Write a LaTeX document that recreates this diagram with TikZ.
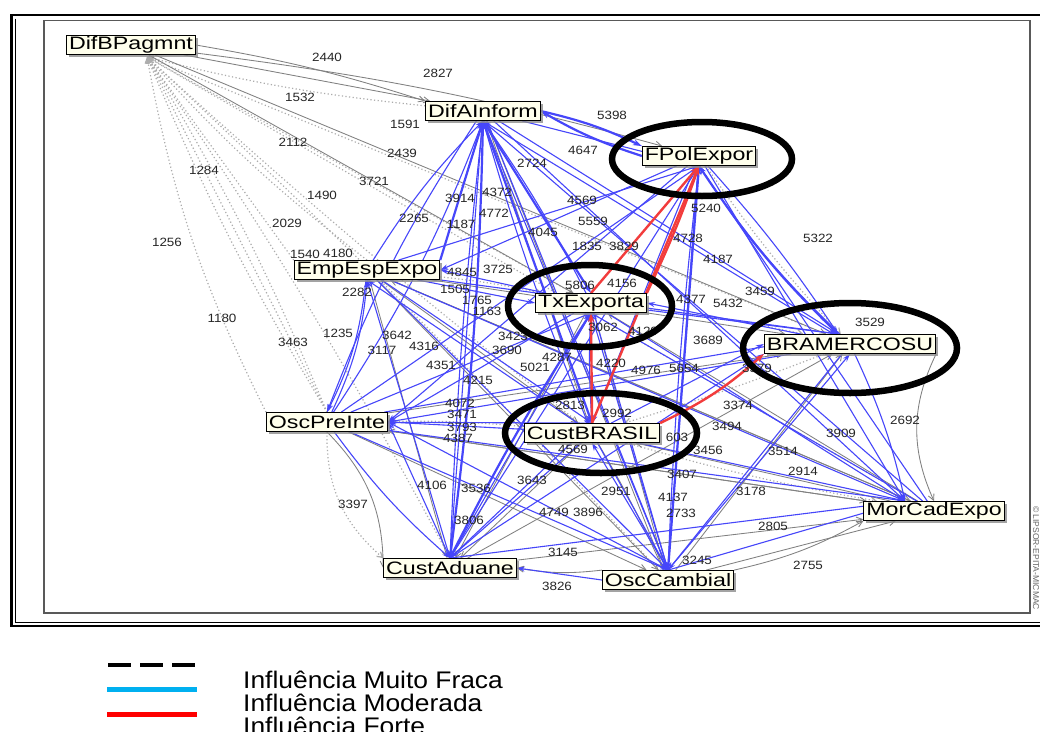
\documentclass[tikz,border=0pt]{standalone}
\usepackage{fontspec}
\setmainfont{Liberation Sans}
\usepackage{graphicx}
\usetikzlibrary{arrows.meta,shadows}
\definecolor{eblue}{RGB}{70,70,250}
\definecolor{egray}{RGB}{128,128,128}
\definecolor{ered}{RGB}{242,60,60}
\definecolor{nodefill}{RGB}{255,255,236}
\definecolor{lcyan}{RGB}{0,176,240}
\newcommand\hs[1]{\scalebox{1.29}[1]{#1}}
\newcommand\ns[1]{\scalebox{1.12}[1]{#1}}
\newcommand\lgs[1]{\scalebox{1.1}[1]{#1}}
\pgfdeclarelayer{bgzero}
\pgfdeclarelayer{edges}
\pgfsetlayers{bgzero,edges,main}
\begin{document}
\begin{tikzpicture}[x=1pt,y=-1pt,
 lab/.style={draw=black, line width=0.8pt, fill=nodefill, inner xsep=2.5pt, inner ysep=0pt,
   minimum height=19pt, font=\fontsize{18}{18}\selectfont,
   drop shadow={shadow xshift=2.5pt, shadow yshift=-2.5pt, fill=black!45, opacity=0.8}},
 num/.style={font=\fontsize{12}{12}\selectfont, text=black!85, inner sep=0pt},
 vw/.style={draw=gray!65, line width=1.2pt, dash pattern=on 1.2pt off 2.4pt, -{Straight Barb[length=5pt,width=6pt]}},
 wk/.style={draw=egray, line width=0.85pt, -{Straight Barb[length=6pt,width=6pt]}},
 md/.style={draw=eblue, line width=1.1pt, -{Stealth[length=8pt,width=5pt]}},
 mdt/.style={draw=eblue, line width=2.2pt, -{Stealth[length=9pt,width=6pt]}},
 st/.style={draw=ered, line width=2.4pt, -{Stealth[length=9pt,width=6pt]}},
 ring/.style={draw=black, line width=6.5pt},
 legtext/.style={font=\fontsize{24}{24}\selectfont, inner sep=0pt, anchor=base west}]
\useasboundingbox (0,0) rectangle (1040,731);
\begin{pgfonlayer}{bgzero}
\fill[white] (0,0) rectangle (1040,731);
\draw[line width=2.6pt] (11.5,15) rectangle (1050,626);
\draw[line width=0.8pt] (15,18.5) -- (15,622.5) -- (1050,622.5);
\draw[line width=1.2pt, black!65] (44,20.5) rectangle (1030,613);
\end{pgfonlayer}

% nodes
\node[lab] (dbp) at (131,45) {\hs{DifBPagmnt}};
\node[lab] (dai) at (483,111) {\hs{DifAInform}};
\node[lab] (fpe) at (699,156) {\hs{FPolExpor}};
\node[lab] (eee) at (367,270) {\hs{EmpEspExpo}};
\node[lab] (tx) at (591,303) {\hs{TxExporta}};
\node[lab] (bra) at (850,344) {\hs{BRAMERCOSU}};
\node[lab] (opi) at (327,422) {\hs{OscPreInte}};
\node[lab] (cb) at (592,433) {\hs{CustBRASIL}};
\node[lab] (mce) at (934,511) {\hs{MorCadExpo}};
\node[lab] (ca) at (450,568) {\hs{CustAduane}};
\node[lab] (oc) at (668,580) {\hs{OscCambial}};
\coordinate (dbpin) at (147,57);
\coordinate (brain) at (838,334);
\coordinate (mcein) at (905,501);

\begin{pgfonlayer}{edges}
\foreach \a/\b/\n in {opi.north/dbpin/0, opi.north/dbpin/4, opi.north/dbpin/-4, opi.north west/dbpin/8,
  eee.north west/dbpin/0, eee.north/dbpin/5, ca.north/dbpin/-3, tx/dbpin/0, cb/dbpin/2, bra/dbpin/0,
  oc/dbpin/-2, mce/dbpin/0, dai/dbpin/4, opi.south/ca.north west/-25, tx/bra/3, cb/mce/-3,
  eee/tx/3, fpe/bra/-4, opi/cb/3, bra/cb/2}
  \draw[vw] (\a) to[bend left=\n] (\b);
\foreach \a/\b/\n in {dbp.east/dai.north west/4, dbp/fpe/4, dbp/tx/0, dbp/bra/0, dbp/dai/0,
  eee/ca/0, eee/oc/0, eee/mce/0, eee/cb/0, eee/bra/0,
  opi.south/ca.west/22, opi/mce/0, opi/oc/0, opi/bra/0,
  oc.north west/ca.east/8, oc/mce/0, oc.north east/mce.south west/-8, ca/mce/0,
  bra.south east/mce.north/-25, mce/cb/0, mce/opi/0, mce/tx/0, mce/eee/0,
  oc/bra/0, ca/bra/0, tx/ca/0, dai/cb/0, dai/oc/0, cb/ca/0, tx/oc/0, cb/oc/3}
  \draw[wk] (\a) to[bend left=\n] (\b);
\foreach \a/\b/\n in {eee/dai.south/6, opi/dai.south/-6, ca.north/dai.south/2, oc.north/dai.south/0,
  cb/dai.south/3, bra/dai.south/0, mce/dai.south/0, tx/dai.south/-4,
  eee/fpe.south/0, opi/fpe.south/0, ca.north/fpe.south/0, oc.north/fpe.south/2, bra/fpe.south/6,
  mce/fpe.south/0, dai/fpe.south/0,
  opi/tx.south/0, ca.north/tx.south/0, oc.north/tx.south/0, eee/tx.west/0, bra/tx.east/0, mce/tx.south/0,
  opi/cb.north/0, ca.north/cb.north/0, oc.north/cb.south/0, eee/cb.north/0, fpe/cb.north/0, tx/cb.north/-3,
  tx/brain/0, eee/brain/0, opi/brain/0, dai/brain/0, ca.north/bra.south west/0, oc.north/bra.south/0,
  cb/bra.west/0, fpe/brain/4,
  eee/opi.north/10, ca.north/opi.east/0, tx/opi.east/0, cb/opi.east/0, bra/opi.east/0, oc.north/opi.east/0,
  dai/opi.north/-6, fpe/opi.east/0,
  fpe/mcein/0, bra/mcein/6, tx/mcein/0, cb/mcein/0, dai/mcein/0, eee/mcein/0, ca.north/mcein/0,
  opi/mcein/0, oc.north/mcein/0,
  ca.north/eee.south/0, opi/eee.south/-10, tx/eee.east/0, fpe/eee.east/0, cb/eee.south/0,
  oc.west/ca.east/0, cb/ca.north/0, opi/ca.north/-6,
  cb/oc.north/0, tx/oc.north/0, fpe/oc.north/0, bra/oc.north/0, opi/oc.north/0, eee/oc.north/0,
  dai/oc.north/0, dai/ca.north/0}
  \draw[md] (\a) to[bend left=\n] (\b);
\foreach \a/\b/\n in {fpe.west/dai.east/6, dai.east/fpe.north west/6, dai.south/tx.north/0,
  dai.south/cb.north/0, fpe.south/brain/-6, ca.north/dai.south/-3, oc.north/fpe.south/0,
  eee.north east/dai.south/0, ca.north/tx.south/3}
  \draw[mdt] (\a) to[bend left=\n] (\b);
\foreach \a/\b/\n in {tx.north/fpe.south/0, tx.north east/fpe.south/-3, cb.north/fpe.south/0,
  cb.north/tx.south/0, cb.north east/bra.south west/-8}
  \draw[st] (\a) to[bend left=\n] (\b);
\end{pgfonlayer}

% edge numbers
\foreach \t/\x/\y [count=\i] in {2440/327/57, 2827/438/73, 1532/300/97, 1591/405/124, 5398/612/115,
  2112/293/142, 2439/402/153, 4647/583/150, 1284/204/170, 2724/532/163, 3721/374/181, 1490/322/195,
  3914/460/198, 4372/497/192, 4569/582/200, 5240/706/208, 1187/461/224, 4772/494/213, 2265/414/218,
  5559/593/221, 2029/287/223, 4045/543/232, 5322/818/238, 4728/688/238, 1256/167/242, 1835/587/246,
  3829/624/246, 1540/305/254, 4180/338/253, 4187/718/259, 4845/462/272, 3725/498/269, 5806/580/285,
  4156/622/283, 4377/691/299, 5432/728/303, 3459/760/291, 2282/357/292, 1505/455/289, 1765/477/300,
  1163/487/311, 3529/870/322, 1180/222/318, 1235/338/333, 3463/293/342, 3642/397/335, 3117/382/350,
  4316/424/346, 3689/708/340, 3062/603/327, 4129/643/331, 3423/513/336, 3690/507/350, 4351/441/365,
  4215/478/380, 4287/557/357, 5021/535/367, 4220/611/363, 4976/646/370, 5654/684/368, 3579/757/368,
  2692/905/420, 4072/460/403, 3471/462/414, 3793/462/427, 4387/458/438, 2813/570/405, 2992/617/413,
  3374/738/405, 3494/727/426, 3909/841/433, 603/677/437, 4569/573/449, 3456/708/450, 3514/783/451,
  2914/803/471, 3407/682/474, 3397/353/504, 4106/432/485, 3536/476/488, 3643/532/480, 2951/616/491,
  4137/673/497, 3178/751/491, 4749/554/512, 3896/588/512, 2733/681/513, 3806/469/520, 2805/773/526,
  3145/563/552, 3245/697/560, 2755/808/565, 3826/557/586}
  \node[num] (n\i) at (\x,\y) {\ns{\t}};

% highlight rings
\draw[ring] (702,159) ellipse [x radius=90, y radius=37];
\draw[ring] (590,306) ellipse [x radius=82, y radius=41];
\draw[ring] (850,348) ellipse [x radius=107, y radius=45];
\draw[ring] (601,433) ellipse [x radius=96, y radius=40];

\node[rotate=-90, font=\fontsize{8.5}{8.5}\selectfont, text=black!60, inner sep=0pt] (cr) at (1036,558) {© LIPSOR-EPITA-MICMAC};

% legend
\coordinate (k1a) at (108,665); \coordinate (k1b) at (196,665);
\coordinate (k2a) at (107,689.5); \coordinate (k2b) at (197,689.5);
\coordinate (k3a) at (107,714); \coordinate (k3b) at (197,714);
\draw[line width=4.5pt, dash pattern=on 23pt off 9pt] (k1a) -- (k1b);
\draw[lcyan, line width=5pt] (k2a) -- (k2b);
\draw[red, line width=5pt] (k3a) -- (k3b);
\node[legtext] (t1) at (243,688) {\lgs{Influência Muito Fraca}};
\node[legtext] (t2) at (243,711) {\lgs{Influência Moderada}};
\node[legtext] (t3) at (243,734) {\lgs{Influência Forte}};
\end{tikzpicture}
\end{document}
